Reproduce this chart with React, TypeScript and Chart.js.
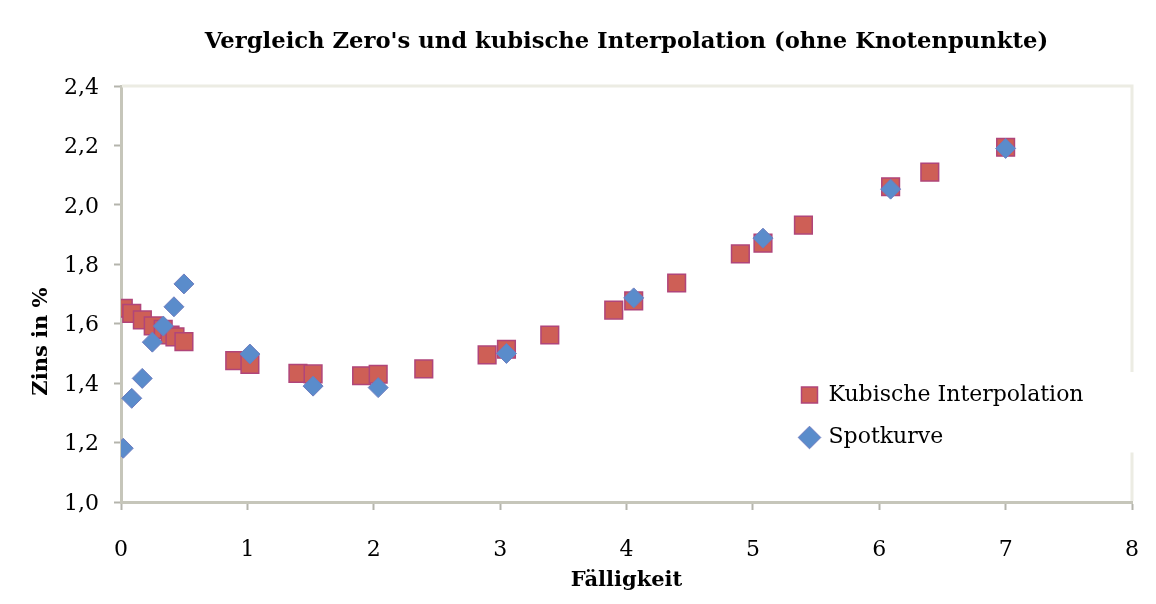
import React, { useEffect, useRef } from 'react';
import { Chart, registerables } from 'chart.js';

Chart.register(...registerables);

const TITLE = "Vergleich Zero's und kubische Interpolation (ohne Knotenpunkte)";
const X_TITLE = 'Fälligkeit';
const Y_TITLE = 'Zins in %';

// Kubische Interpolation (squares)
const kubX = [0.018, 0.085, 0.169, 0.255, 0.334, 0.388, 0.427, 0.498, 0.90, 1.02, 1.40, 1.52, 1.904, 2.035, 2.396, 2.897, 3.05, 3.393, 3.899, 4.057, 4.397, 4.901, 5.08, 5.40, 6.09, 6.40, 7.0];
const kubY = [1.652, 1.635, 1.613, 1.593, 1.581, 1.562, 1.556, 1.540, 1.476, 1.463, 1.433, 1.431, 1.425, 1.430, 1.448, 1.495, 1.514, 1.562, 1.646, 1.677, 1.737, 1.835, 1.871, 1.932, 2.061, 2.110, 2.194];

// Spotkurve (diamonds)
const spotX = [0.018, 0.085, 0.168, 0.248, 0.335, 0.419, 0.498, 1.02, 1.52, 2.035, 3.05, 4.057, 5.08, 6.09, 7.0];
const spotY = [1.181, 1.349, 1.416, 1.538, 1.592, 1.657, 1.734, 1.498, 1.390, 1.385, 1.500, 1.687, 1.888, 2.053, 2.190];

const SERIF = "'DejaVu Serif', 'Liberation Serif', serif";

const frame = {
  id: 'frame',
  beforeDatasetsDraw(chart: any) {
    const { ctx, chartArea } = chart;
    const { left, top, right, bottom } = chartArea;
    const lg = chart.legend;
    const gapTop = lg ? lg.top + 8.5 : bottom;
    const gapBottom = lg ? lg.top + 89 : bottom;
    ctx.save();
    ctx.strokeStyle = '#ecece3';
    ctx.lineWidth = 3;
    ctx.beginPath();
    ctx.moveTo(left + 1, top);
    ctx.lineTo(right, top);
    ctx.lineTo(right, gapTop);
    ctx.moveTo(right, gapBottom);
    ctx.lineTo(right, bottom - 1);
    ctx.stroke();
    ctx.restore();
  },
};

const legendPlace = {
  id: 'legendPlace',
  afterLayout(chart: any) {
    const lg = chart.legend;
    if (!lg) return;
    lg.left = 781;
    lg.top = 363.5;
    lg.right = lg.left + 360;
    lg.bottom = lg.top + 200;
  },
};

export default function App() {
  const ref = useRef<HTMLCanvasElement | null>(null);

  useEffect(() => {
    if (!ref.current) return;
    const tickFont = { family: SERIF, size: 22 };
    const boldFont = { family: SERIF, size: 21, weight: 'bold' as const };
    const chart = new Chart(ref.current, {
      type: 'scatter',
      data: {
        datasets: [
          {
            label: 'Kubische Interpolation',
            data: kubX.map((x, i) => ({ x, y: kubY[i] })),
            pointStyle: 'rect',
            pointRadius: 12.5,
            pointHoverRadius: 12.5,
            backgroundColor: '#CE5F56',
            borderColor: '#B0457A',
            borderWidth: 1.5,
            order: 1,
          },
          {
            label: 'Spotkurve',
            data: spotX.map((x, i) => ({ x, y: spotY[i] })),
            pointStyle: 'rectRot',
            pointRadius: 10,
            pointHoverRadius: 10,
            backgroundColor: '#5A8CCB',
            borderColor: '#6E7CBF',
            borderWidth: 1,
            order: 0,
          },
        ],
      },
      options: {
        animation: false,
        responsive: false,
        events: [],
        layout: { padding: { left: 0, right: 24, top: 0, bottom: 0 } },
        plugins: {
          title: {
            display: true,
            text: TITLE,
            fullSize: false,
            color: '#000',
            font: { family: SERIF, size: 22.7, weight: 'bold' },
            padding: { top: 28.5, bottom: 30.3 },
          },
          legend: {
            position: 'chartArea',
            align: 'start',
            labels: {
              usePointStyle: true,
              boxWidth: 16,
              boxHeight: 16,
              padding: 20.5,
              color: '#000',
              font: { family: SERIF, size: 22 },
              sort: (a: any, b: any) => a.datasetIndex - b.datasetIndex,
            },
          },
          tooltip: { enabled: false },
        },
        scales: {
          x: {
            type: 'linear',
            min: 0,
            max: 8,
            ticks: { stepSize: 1, padding: 27, color: '#000', font: tickFont },
            grid: { drawOnChartArea: false, drawTicks: true, tickLength: 8, tickColor: '#b4b4ac', tickWidth: 2 },
            border: { color: '#c6c6ba', width: 3 },
            title: { display: true, text: X_TITLE, color: '#000', font: boldFont, padding: { top: 0, bottom: 11 } },
            afterFit: (s: any) => { s.height = 102; s.paddingLeft = 0; s.paddingRight = 0; },
          },
          y: {
            type: 'linear',
            min: 1,
            max: 2.4,
            ticks: {
              stepSize: 0.2,
              padding: 15,
              labelOffset: 2,
              color: '#000',
              font: tickFont,
              callback: (v: any) => Number(v).toFixed(1).replace('.', ','),
            },
            grid: { drawOnChartArea: false, drawTicks: true, tickLength: 7, tickColor: '#b4b4ac', tickWidth: 2 },
            border: { color: '#c6c6ba', width: 3 },
            title: {
              display: true,
              text: Y_TITLE + '\u00a0'.repeat(13),
              color: '#000',
              font: boldFont,
              padding: { top: 29, bottom: 0 },
            },
            afterFit: (s: any) => { s.width = 121; s.paddingTop = 0; s.paddingBottom = 0; },
          },
        },
      },
      plugins: [legendPlace, frame],
    } as any);
    return () => chart.destroy();
  }, []);

  return (
    <div style={{ position: 'absolute', left: 0, top: 0, width: 1156, height: 604, background: '#fff' }}>
      <canvas ref={ref} width={1156} height={604} style={{ display: 'block' }} />
    </div>
  );
}
